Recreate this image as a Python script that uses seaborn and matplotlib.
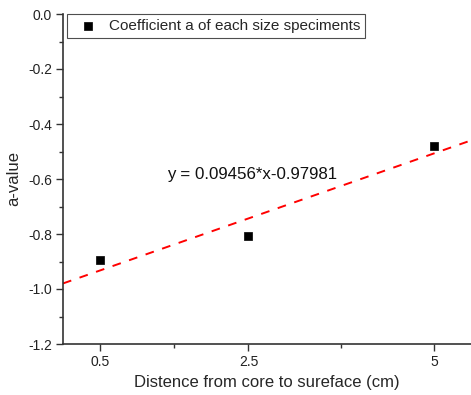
import numpy as np
import pandas as pd
import matplotlib
matplotlib.use("Agg")
import matplotlib.pyplot as plt
import seaborn as sns
from matplotlib.ticker import MultipleLocator, FixedLocator

# Measured coefficient a for each specimen depth
distance_cm = [0.5, 2.5, 5]
a_value = [-0.895, -0.806, -0.479]
x_tick_labels = ["0.5", "2.5", "5"]

# Linear fit parameters
fit_slope = 0.09456
fit_intercept = -0.97981

sns.set_theme(style="ticks")
plt.rcParams["font.family"] = ["Liberation Sans", "DejaVu Sans"]
plt.rcParams["axes.unicode_minus"] = False

fig = plt.figure(figsize=(4.71, 3.95), dpi=100)
ax = fig.add_axes([63 / 471, 51 / 395, 408 / 471, 330 / 395])

df = pd.DataFrame({"x": distance_cm, "y": a_value})
sns.scatterplot(data=df, x="x", y="y", ax=ax, marker="s", s=30, color="black",
                edgecolor="black", linewidth=0.5,
                label="Coefficient a of each size speciments", zorder=3)

xlim = (0, 5.5)
fit_x = np.linspace(xlim[0], xlim[1], 50)
fit_df = pd.DataFrame({"x": fit_x, "y": fit_slope * fit_x + fit_intercept})
sns.lineplot(data=fit_df, x="x", y="y", ax=ax, color="red", linewidth=1.4,
             linestyle=(0, (4.5, 4.5)), legend=False)

ax.set_xlim(*xlim)
ax.set_ylim(-1.2, 0.0)
ax.xaxis.set_major_locator(FixedLocator(distance_cm))
ax.set_xticklabels(x_tick_labels)
ax.xaxis.set_minor_locator(FixedLocator([1.5, 3.75]))
ax.yaxis.set_major_locator(MultipleLocator(0.2))
ax.yaxis.set_minor_locator(MultipleLocator(0.1))
ax.yaxis.set_major_formatter(matplotlib.ticker.FormatStrFormatter("%.1f"))

for side in ("top", "right"):
    ax.spines[side].set_visible(False)
for side in ("left", "bottom"):
    ax.spines[side].set_color("#333333")
    ax.spines[side].set_linewidth(1.2)
ax.tick_params(which="major", length=5, width=1.0, color="#333333",
               labelsize=10, labelcolor="#222222", pad=3)
ax.tick_params(which="minor", length=3, width=1.0, color="#333333")

ax.set_xlabel("Distence from core to sureface (cm)", fontsize=12, labelpad=4)
ax.set_ylabel("a-value", fontsize=12, labelpad=5)

ax.text(2.55, -0.585, "y = 0.09456*x-0.97981", fontsize=12.2,
        ha="center", va="center", color="#111111")

leg = ax.legend(loc="upper left", bbox_to_anchor=(4 / 408, 1.0), frameon=True,
                fancybox=False, fontsize=11.0, handlelength=2.1,
                handletextpad=0.3, borderpad=0.33, borderaxespad=0.0,
                markerscale=1.0)
leg.get_frame().set_edgecolor("#222222")
leg.get_frame().set_linewidth(0.8)

fig.savefig("out.png", dpi=100)
